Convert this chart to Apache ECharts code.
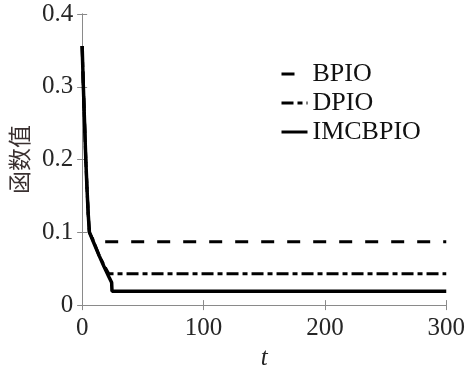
<!DOCTYPE html>
<html>
<head>
<meta charset="utf-8">
<style>
  html, body { margin: 0; padding: 0; background: #fff; }
  #chart { width: 468px; height: 376px; }
</style>
<script src="https://cdn.jsdelivr.net/npm/echarts@6/dist/echarts.min.js"></script>
</head>
<body>
<div id="chart"></div>
<script>
// Objective function value vs. iteration t for three optimisers
const seriesNames = ['BPIO', 'DPIO', 'IMCBPIO'];

const bpioT = [0, 1, 2, 3, 4, 5, 6, 8, 10, 300];
const bpioV = [0.356, 0.30, 0.25, 0.20, 0.16, 0.125, 0.10, 0.093, 0.087, 0.087];

const dpioT = [0, 1, 2, 3, 4, 5, 6, 10, 14, 18, 21, 22, 300];
const dpioV = [0.356, 0.30, 0.25, 0.20, 0.16, 0.125, 0.10, 0.085, 0.068, 0.055, 0.046, 0.043, 0.043];

const imcT = [0, 1, 2, 3, 4, 5, 6, 10, 14, 18, 22, 24.3, 24.6, 300];
const imcV = [0.356, 0.30, 0.25, 0.20, 0.16, 0.125, 0.10, 0.084, 0.068, 0.053, 0.039, 0.031, 0.019, 0.019];

const xTicks = [0, 100, 200, 300];
const yTicks = [0, 0.1, 0.2, 0.3, 0.4];

const pairs = (ts, vs) => ts.map((t, i) => [t, vs[i]]);

const serif = 'Liberation Serif, Times New Roman, serif';
const axisGray = '#8a8a8a';
const textDark = '#262626';

const dashB = [13, 13];
const dashD = [12, 4, 5, 4];

const chart = echarts.init(document.getElementById('chart'), null, { renderer: 'canvas' });

const baseAxis = {
  axisLine: { show: true, lineStyle: { color: axisGray, width: 1 } },
  axisTick: { show: true, inside: true, length: 5, lineStyle: { color: axisGray } },
  splitLine: { show: false }
};

const hiddenMarker = { color: 'rgba(0,0,0,0)', borderWidth: 0, opacity: 0 };

chart.setOption({
  animation: false,
  backgroundColor: '#fff',
  grid: { left: 79, right: 18, top: 14, bottom: 70, containLabel: false },
  xAxis: [
    Object.assign({}, baseAxis, {
      type: 'value', min: xTicks[0], max: xTicks[xTicks.length - 1], interval: 100,
      position: 'bottom',
      axisLabel: { color: textDark, fontFamily: serif, fontSize: 25, margin: 11 },
      name: 't', nameLocation: 'middle', nameGap: 38,
      nameTextStyle: { color: textDark, fontFamily: serif, fontSize: 25, fontStyle: 'italic' }
    }),
    Object.assign({}, baseAxis, {
      type: 'value', min: xTicks[0], max: xTicks[xTicks.length - 1], interval: 100,
      position: 'top', axisLabel: { show: false }
    })
  ],
  yAxis: [
    Object.assign({}, baseAxis, {
      type: 'value', min: yTicks[0], max: yTicks[yTicks.length - 1], interval: 0.1,
      position: 'left',
      axisLabel: {
        color: textDark, fontFamily: serif, fontSize: 25, margin: 9,
        formatter: v => (v === 0 ? '0' : v.toFixed(1))
      },
      name: '函数值', nameLocation: 'middle', nameGap: 47, nameRotate: 90,
      nameTextStyle: { color: '#3a3030', fontFamily: 'Noto Sans CJK SC', fontSize: 23 }
    }),
    Object.assign({}, baseAxis, {
      type: 'value', min: yTicks[0], max: yTicks[yTicks.length - 1], interval: 0.1,
      position: 'right', axisLabel: { show: false }
    })
  ],
  legend: {
    orient: 'vertical', left: 280, top: 61, padding: 0,
    itemWidth: 26, itemHeight: 14, itemGap: 3,
    itemStyle: hiddenMarker,
    textStyle: { color: '#111', fontFamily: serif, fontSize: 26, lineHeight: 24 },
    data: [
      { name: 'BPIO', itemStyle: hiddenMarker, lineStyle: { color: '#000', width: 3, type: dashB } },
      { name: 'DPIO', itemStyle: hiddenMarker, lineStyle: { color: '#000', width: 3, type: dashD } },
      { name: 'IMCBPIO', itemStyle: hiddenMarker, lineStyle: { color: '#000', width: 3, type: 'solid' } }
    ]
  },
  series: [
    { name: seriesNames[0], type: 'line', data: pairs(bpioT, bpioV), showSymbol: false, symbol: 'none',
      lineStyle: { color: '#000', width: 3, type: dashB }, itemStyle: { color: '#000' }, z: 3 },
    { name: seriesNames[1], type: 'line', data: pairs(dpioT, dpioV), showSymbol: false, symbol: 'none',
      lineStyle: { color: '#000', width: 3, type: dashD }, itemStyle: { color: '#000' }, z: 4 },
    { name: seriesNames[2], type: 'line', data: pairs(imcT, imcV), showSymbol: false, symbol: 'none',
      lineStyle: { color: '#000', width: 3.5, type: 'solid' }, itemStyle: { color: '#000' }, z: 5 }
  ]
});
</script>
</body>
</html>
